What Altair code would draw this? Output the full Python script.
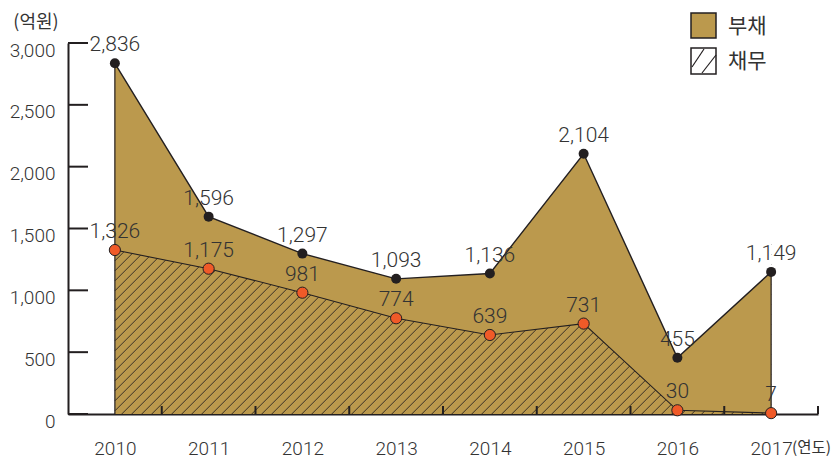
import altair as alt
import pandas as pd

# ---- data ----
years = [2010, 2011, 2012, 2013, 2014, 2015, 2016, 2017]
debt = [2836, 1596, 1297, 1093, 1136, 2104, 455, 1149]        # 부채
obligation = [1326, 1175, 981, 774, 639, 731, 30, 7]         # 채무
y_ticks = [0, 500, 1000, 1500, 2000, 2500, 3000]
x_boundaries = [2010.5, 2011.5, 2012.5, 2013.5, 2014.5, 2015.5, 2016.5, 2017.5]

# ---- layout / style ----
W, H = 750, 371
X0, X1 = 2009.5, 2017.5
YMAX = 3000
GOLD = "#BB994D"
DARK = "#231F20"
ORANGE = "#F05A28"
TXT = "#333333"
NUM_FONT = "Roboto"
KR_FONT = "Noto Sans CJK KR"

df = pd.DataFrame({"year": years, "debt": debt, "obl": obligation})
df["top"] = YMAX

xs = alt.Scale(domain=[X0, X1], nice=False, zero=False)
ys = alt.Scale(domain=[0, YMAX], nice=False)
xaxis = alt.Axis(values=years, labelExpr="format(datum.value, 'd')", ticks=False, grid=False,
                 title=None, domainColor=DARK, domainWidth=2, labelFontSize=19, labelColor=TXT,
                 labelFont=NUM_FONT, labelFontWeight=300, labelPadding=25)
yaxis = alt.Axis(values=y_ticks, labelExpr="format(datum.value, ',')", ticks=False, grid=False,
                 title=None, domainColor=DARK, domainWidth=2, labelFontSize=19, labelColor=TXT,
                 labelFont=NUM_FONT, labelFontWeight=300, labelPadding=13, labelOffset=7)

X = lambda f: alt.X(f, scale=xs, axis=xaxis)
Y = lambda f: alt.Y(f, scale=ys, axis=yaxis)

base = alt.Chart(df)

# 1. gold debt area
gold_area = base.mark_area(color=GOLD, opacity=1).encode(x=X("year:Q"), y=Y("debt:Q"), y2=alt.value(H))

# 2. hatch pattern lines (45 degrees in pixel space)
px_year = W / (X1 - X0)
px_unit = H / YMAX
slope = px_year / px_unit          # value units per year for 45deg
spacing = 10 / px_year             # 10px apart horizontally
hatch_top = 1400
run = hatch_top / slope
hatch = (
    alt.Chart(alt.sequence(start=2010 - run, stop=2017, step=spacing, as_="a"))
    .transform_calculate(xa="max(datum.a, 2010)", xb=f"min(datum.a + {run}, 2017)")
    .transform_filter("datum.xa < datum.xb")
    .transform_calculate(ya=f"{slope}*(datum.xa - datum.a)", yb=f"{slope}*(datum.xb - datum.a)")
    .mark_rule(color=DARK, strokeWidth=0.85)
    .encode(x=X("xa:Q"), x2="xb:Q", y=Y("ya:Q"), y2="yb:Q")
)

# 3. cover hatch above 채무 with gold, above 부채 with white
gold_cover = base.mark_area(color=GOLD, opacity=1).encode(x=X("year:Q"), y=Y("obl:Q"), y2="debt:Q")
white_cover = base.mark_area(color="white", opacity=1).encode(x=X("year:Q"), y=Y("debt:Q"), y2="top:Q")

# 4. outlines
obl_line = base.mark_line(color=DARK, strokeWidth=1.1).encode(x=X("year:Q"), y=Y("obl:Q"))
debt_line = base.mark_line(color=DARK, strokeWidth=1.4).encode(x=X("year:Q"), y=Y("debt:Q"))
edges = base.transform_filter("datum.year == 2010 || datum.year == 2017").mark_rule(
    color=DARK, strokeWidth=1.2).encode(x=X("year:Q"), y=Y("debt:Q"), y2=alt.value(H))

# 5. axis ticks (inward)
yt = alt.Chart(pd.DataFrame({"v": y_ticks})).mark_rule(color=DARK, strokeWidth=2).encode(
    y=Y("v:Q"), x=alt.value(0), x2=alt.value(20))
xt = alt.Chart(pd.DataFrame({"t": x_boundaries})).mark_rule(color=DARK, strokeWidth=2).encode(
    x=X("t:Q"), y=alt.value(H), y2=alt.value(H - 8))

# 6. points
debt_pts = base.mark_circle(size=100, color=DARK, opacity=1).encode(x=X("year:Q"), y=Y("debt:Q"))
obl_pts = base.mark_point(shape="circle", filled=True, size=125, fill=ORANGE, stroke=DARK,
                          strokeWidth=1, opacity=1).encode(x=X("year:Q"), y=Y("obl:Q"))

# 7. value labels
lbl_style = dict(dy=-18, fontSize=21, font=NUM_FONT, fontWeight=300, color=TXT, baseline="middle")
debt_lbl = base.mark_text(**lbl_style).encode(
    x=X("year:Q"), y=Y("debt:Q"), text=alt.Text("debt:Q", format=","))
obl_lbl = base.mark_text(**lbl_style).encode(
    x=X("year:Q"), y=Y("obl:Q"), text=alt.Text("obl:Q", format=","))

# 8. legend and unit texts
one = alt.Chart(pd.DataFrame({"k": [0]}))
leg_gold = one.mark_rect(fill=GOLD, stroke=DARK, strokeWidth=1.5).encode(
    x=alt.value(623), x2=alt.value(648), y=alt.value(-30), y2=alt.value(-5))
leg_hatch = one.mark_rect(fill="white", stroke=DARK, strokeWidth=1.5).encode(
    x=alt.value(623), x2=alt.value(648), y=alt.value(5), y2=alt.value(31))
leg_l1 = one.mark_rule(color=DARK, strokeWidth=1.2).encode(
    x=alt.value(624), y=alt.value(24), x2=alt.value(636), y2=alt.value(6))
leg_l2 = one.mark_rule(color=DARK, strokeWidth=1.2).encode(
    x=alt.value(634), y=alt.value(30), x2=alt.value(648), y2=alt.value(12))
leg_t1 = one.mark_text(text="부채", font=KR_FONT, fontSize=21, color=TXT, align="left",
                       baseline="middle").encode(x=alt.value(660), y=alt.value(-16))
leg_t2 = one.mark_text(text="채무", font=KR_FONT, fontSize=21, color=TXT, align="left",
                       baseline="middle").encode(x=alt.value(660), y=alt.value(19))
unit_y = one.mark_text(text="(억원)", font=KR_FONT, fontSize=18, color=TXT, align="center",
                       baseline="middle").encode(x=alt.value(-32), y=alt.value(-20))
unit_x = one.mark_text(text="(연도)", font=KR_FONT, fontSize=15.5, color=TXT, align="left",
                       baseline="middle").encode(x=alt.value(724), y=alt.value(405))

chart = alt.layer(
    gold_area, hatch, gold_cover, white_cover, obl_line, debt_line, edges, yt, xt,
    debt_pts, obl_pts, debt_lbl, obl_lbl,
    leg_gold, leg_hatch, leg_l1, leg_l2, leg_t1, leg_t2, unit_y, unit_x,
).properties(
    width=W, height=H,
    autosize=alt.AutoSizeParams(type="none"),
    padding={"left": 60, "top": 35, "right": 13, "bottom": 44},
).configure_view(stroke=None)

chart.save("out.html", embed_options={"renderer": "svg", "actions": False})
